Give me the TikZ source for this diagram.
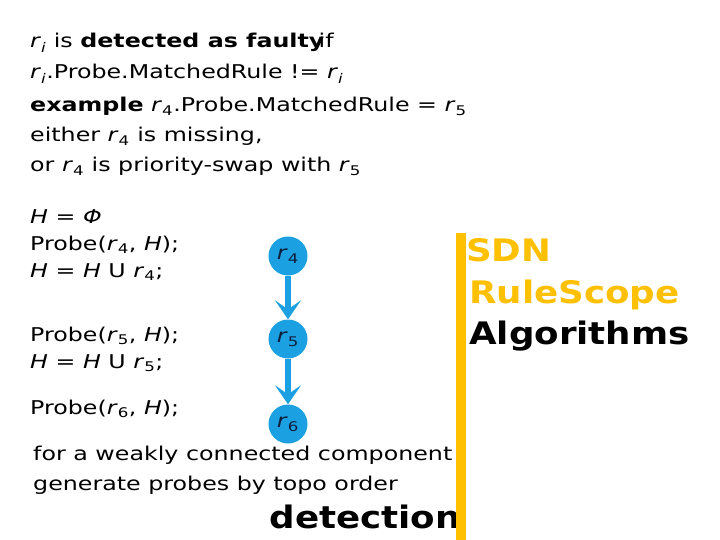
\documentclass[tikz,border=0pt]{standalone}
\usepackage{fontspec}
\setmainfont{DejaVu Sans}[FakeStretch=1.25]
\newfontfamily\headfont{DejaVu Sans}[FakeStretch=1.15]
\usetikzlibrary{arrows.meta}
\definecolor{nodeblue}{RGB}{27,161,226}
\definecolor{baryellow}{RGB}{255,192,0}
\definecolor{nodetext}{RGB}{15,30,60}
\newcommand\rsub[1]{\textit{r}\textsubscript{#1}}
\tikzset{
  txt/.style={anchor=base west, inner sep=0pt, font=\fontsize{19}{22}\selectfont},
  head/.style={anchor=base west, inner sep=0pt, font=\headfont\bfseries\fontsize{31}{36}\selectfont},
  rnode/.style={circle, fill=nodeblue, minimum size=39pt, inner sep=0pt, text=nodetext, font=\fontsize{19}{22}\selectfont},
  flow/.style={draw=nodeblue, line width=5.5pt, -{Stealth[length=19pt, width=26pt, inset=9pt]}}
}
\begin{document}
\begin{tikzpicture}[x=1pt, y=-1pt]
\useasboundingbox (0,0) rectangle (720,540);
\fill[white] (0,0) rectangle (720,540);
% top text
\node[txt] (t1) at (30,48) {\rsub{\textit{i}} is \textbf{detected as faulty}\hspace{-.3em}if};
\node[txt] (t2) at (30,79) {\rsub{\textit{i}}.Probe.MatchedRule != \rsub{\textit{i}}};
\node[txt] (t3) at (30,112) {\textbf{example} \rsub{4}.Probe.MatchedRule = \rsub{5}};
\node[txt] (t4) at (30,142) {either \rsub{4} is missing,};
\node[txt] (t5) at (30,172) {or \rsub{4} is priority-swap with \rsub{5}};
% algorithm
\node[txt] (a1) at (30,223) {\textit{H} = \textit{Φ}};
\node[txt] (a2) at (30,250) {Probe(\rsub{4}, \textit{H});};
\node[txt] (a3) at (30,277) {\textit{H} = \textit{H} U \rsub{4};};
\node[txt] (a4) at (30,341) {Probe(\rsub{5}, \textit{H});};
\node[txt] (a5) at (30,368) {\textit{H} = \textit{H} U \rsub{5};};
\node[txt] (a6) at (30,414) {Probe(\rsub{6}, \textit{H});};
% graph
\node[rnode] (n4) at (288,256) {\rsub{4}};
\node[rnode] (n5) at (288,339) {\rsub{5}};
\node[rnode] (n6) at (288,424) {\rsub{6}};
\draw[flow] (n4) -- (n5);
\draw[flow] (n5) -- (n6);
% bottom text
\node[txt] (b1) at (33,460) {for a weakly connected component};
\node[txt] (b2) at (33,490) {generate probes by topo order};
\node[head, anchor=base east] (det) at (461,528) {detection};
% side title
\fill[baryellow] (456,233) rectangle (466,540);
\node[head, text=baryellow] (h1) at (466,261) {SDN};
\node[head, text=baryellow] (h2) at (469,303) {RuleScope};
\node[head] (h3) at (469,344) {Algorithms};
\end{tikzpicture}
\end{document}
